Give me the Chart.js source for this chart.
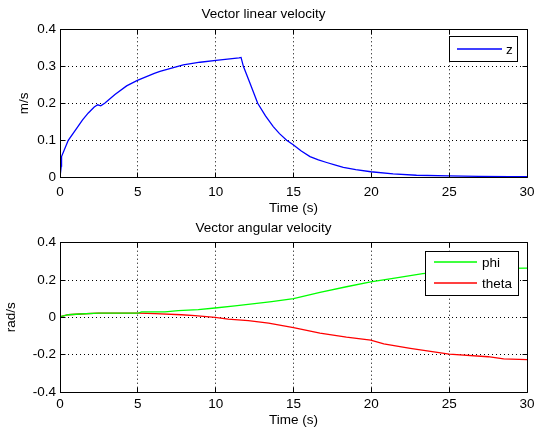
<!DOCTYPE html>
<html><head><meta charset="utf-8">
<script src="https://cdn.jsdelivr.net/npm/chart.js@4.4.0/dist/chart.umd.min.js"></script>
<style>
html,body{margin:0;padding:0;background:#fff;}
#wrap{position:relative;width:540px;height:435px;overflow:hidden;background:#fff;}
canvas{position:absolute;left:0;}
</style></head><body>
<div id="wrap">
<canvas id="c1" width="540" height="220" style="top:0;width:540px;height:220px"></canvas>
<canvas id="c2" width="540" height="215" style="top:220px;width:540px;height:215px"></canvas>
</div>
<script>
// ---- data ----
const zTime   = [0, 0.08, 0.1, 0.53, 1.07, 1.45, 1.82, 2.2, 2.42, 2.62, 2.89, 3.53, 4.28, 4.97, 6.06, 6.42, 7.92, 9.0, 10.02, 11.5, 11.63, 11.78, 12.2, 12.7, 13.2, 13.7, 14.1, 14.56, 14.98, 15.5, 16.06, 16.6, 17.13, 17.7, 18.2, 19.0, 19.97, 21.4, 22.9, 24.97, 26.9, 28.9, 30];
const zValues = [0, 0.03, 0.056, 0.1, 0.132, 0.155, 0.174, 0.19, 0.196, 0.193, 0.201, 0.224, 0.247, 0.262, 0.281, 0.286, 0.304, 0.311, 0.316, 0.323, 0.324, 0.3, 0.255, 0.2, 0.166, 0.137, 0.118, 0.1, 0.088, 0.071, 0.056, 0.047, 0.04, 0.033, 0.027, 0.021, 0.015, 0.009, 0.0055, 0.0036, 0.0027, 0.002, 0.0018];

const phiTime   = [0, 0.1, 0.53, 1.28, 2.46, 5.03, 5.24, 6.74, 7.6, 8.88, 9.96, 11.24, 12.5, 13.6, 15, 16.7, 18.4, 19.96, 21.6, 23.3, 25, 27, 28.5, 30];
const phiValues = [0, 0.005, 0.014, 0.018, 0.023, 0.023, 0.029, 0.029, 0.036, 0.041, 0.05, 0.062, 0.073, 0.084, 0.1, 0.134, 0.164, 0.19, 0.212, 0.234, 0.248, 0.258, 0.262, 0.264];

const thetaTime   = [0, 0.1, 0.53, 1.28, 2.46, 5.03, 6.1, 7.8, 8.67, 9.96, 10.8, 12.1, 13.4, 15, 16.7, 18.4, 19.96, 20.8, 22.5, 25, 27.5, 28.5, 30];
const thetaValues = [0, 0.005, 0.014, 0.018, 0.023, 0.023, 0.02, 0.014, 0.009, 0, -0.009, -0.018, -0.031, -0.055, -0.084, -0.106, -0.122, -0.142, -0.166, -0.197, -0.211, -0.222, -0.226];

const xTicks = [0, 5, 10, 15, 20, 25, 30];
const xTickLabels = ['0', '5', '10', '15', '20', '25', '30'];
const yTicksTop = [0, 0.1, 0.2, 0.3, 0.4];
const yTickLabelsTop = ['0', '0.1', '0.2', '0.3', '0.4'];
const yTicksBottom = [-0.4, -0.2, 0, 0.2, 0.4];
const yTickLabelsBottom = ['-0.4', '-0.2', '0', '0.2', '0.4'];

// ---- styling ----
const FONT = '"Liberation Sans", Arial, Helvetica, sans-serif';
const FS = 13.5;
Chart.defaults.font.family = FONT;
Chart.defaults.font.size = FS;
Chart.defaults.color = '#000';

function pts(xs, ys){ return xs.map((x,i)=>({x:x, y:ys[i]})); }
function align(p){ return Math.round(p - 0.5) + 0.5; }

const boxPlugin = {
  id: 'matlabBox',
  afterDatasetsDraw(chart){
    const {ctx, chartArea:a, scales:{x, y}} = chart;
    ctx.save();
    ctx.strokeStyle = '#000';
    ctx.lineWidth = 1;
    ctx.setLineDash([]);
    const L = align(a.left), R = align(a.right), T = align(a.top), B = align(a.bottom);
    ctx.beginPath();
    ctx.rect(L, T, R - L, B - T);
    const tl = 5;
    x.ticks.forEach(t => {
      const px = align(x.getPixelForValue(t.value));
      ctx.moveTo(px, B); ctx.lineTo(px, B - tl);
      ctx.moveTo(px, T); ctx.lineTo(px, T + tl);
    });
    y.ticks.forEach(t => {
      const py = align(y.getPixelForValue(t.value));
      ctx.moveTo(L, py); ctx.lineTo(L + tl, py);
      ctx.moveTo(R, py); ctx.lineTo(R - tl, py);
    });
    ctx.stroke();
    ctx.restore();
  }
};

const insetLegend = {
  id: 'insetLegend',
  afterDraw(chart, args, o){
    const {ctx, chartArea:a} = chart;
    const left = Math.round(a.right - o.right - o.width);
    const top = Math.round(a.top + o.top);
    ctx.save();
    ctx.fillStyle = '#fff';
    ctx.fillRect(left, top, o.width, o.height);
    ctx.strokeStyle = '#000';
    ctx.lineWidth = 1;
    ctx.setLineDash([]);
    ctx.strokeRect(left + 0.5, top + 0.5, o.width - 1, o.height - 1);
    ctx.font = FS + 'px ' + FONT;
    ctx.textBaseline = 'middle';
    ctx.textAlign = 'left';
    chart.data.datasets.forEach((ds, i) => {
      const yy = Math.round(top + o.rows[i]);
      ctx.strokeStyle = ds.borderColor;
      ctx.lineWidth = 1.3;
      ctx.beginPath();
      ctx.moveTo(left + o.lineStart, yy);
      ctx.lineTo(left + o.lineStart + o.lineLen, yy);
      ctx.stroke();
      ctx.fillStyle = '#000';
      ctx.fillText(ds.label, left + o.textX, yy + 1);
    });
    ctx.restore();
  }
};

function makeChart(id, cfg){
  return new Chart(document.getElementById(id), {
    type: 'line',
    data: { datasets: cfg.datasets },
    plugins: [boxPlugin, insetLegend],
    options: {
      responsive: false,
      animation: false,
      devicePixelRatio: 1,
      layout: { padding: { left: 0, right: 13, top: 0, bottom: 0 } },
      elements: { point: { radius: 0 }, line: { tension: 0, borderWidth: 1.3 } },
      plugins: {
        legend: { display: false },
        tooltip: { enabled: false },
        title: {
          display: true, text: cfg.title, color: '#000',
          font: { size: FS, weight: 'normal', family: FONT },
          padding: cfg.titlePad
        },
        insetLegend: cfg.legend
      },
      scales: {
        x: {
          type: 'linear', min: 0, max: 30,
          afterBuildTicks: s => { s.ticks = xTicks.map(v => ({value: v})); },
          afterFit: s => { s.height = cfg.xHeight; s.paddingLeft = 0; s.paddingRight = 0; },
          ticks: { padding: cfg.xTickPad, maxRotation: 0, autoSkip: false,
                   callback: (v, i) => xTickLabels[i], color: '#000', font: { size: FS } },
          grid: { color: '#000', lineWidth: 1, drawTicks: false },
          border: { display: false, dash: [1, 3] },
          title: { display: true, text: 'Time (s)', color: '#000', font: { size: FS },
                   padding: { top: 0, bottom: cfg.xTitlePad } }
        },
        y: {
          type: 'linear', min: cfg.yMin, max: cfg.yMax,
          afterBuildTicks: s => { s.ticks = cfg.yTicks.map(v => ({value: v})); },
          afterFit: s => { s.width = 60; s.paddingTop = 0; s.paddingBottom = 0; },
          ticks: { padding: 4, autoSkip: false,
                   callback: (v, i) => cfg.yLabels[i], color: '#000', font: { size: FS } },
          grid: { color: '#000', lineWidth: 1, drawTicks: false },
          border: { display: false, dash: [1, 3] },
          title: { display: true, text: cfg.yTitle, color: '#000', font: { size: FS },
                   padding: { top: cfg.yTitlePad, bottom: 0 } }
        }
      }
    }
  });
}

makeChart('c1', {
  title: 'Vector linear velocity',
  titlePad: { top: 5.9, bottom: 7.2 },
  xHeight: 42.7, xTickPad: 6.5, xTitlePad: 3.6,
  yMin: 0, yMax: 0.4, yTicks: yTicksTop, yLabels: yTickLabelsTop,
  yTitle: 'm/s', yTitlePad: 15.9,
  legend: { right: 9, top: 6.7, width: 69, height: 26, rows: [13], lineStart: 8, lineLen: 45, textX: 57 },
  datasets: [
    { label: 'z', data: pts(zTime, zValues), borderColor: '#0000ff', borderWidth: 1.3, fill: false }
  ]
});

makeChart('c2', {
  title: 'Vector angular velocity',
  titlePad: { top: 0.2, bottom: 6.3 },
  xHeight: 43, xTickPad: 4.5, xTitlePad: 6.2,
  yMin: -0.4, yMax: 0.4, yTicks: yTicksBottom, yLabels: yTickLabelsBottom,
  yTitle: 'rad/s', yTitlePad: 3,
  legend: { right: 8, top: 8.3, width: 94, height: 45, rows: [11.3, 31.7], lineStart: 9, lineLen: 43, textX: 57 },
  datasets: [
    { label: 'phi', data: pts(phiTime, phiValues), borderColor: '#00ff00', borderWidth: 1.3, fill: false },
    { label: 'theta', data: pts(thetaTime, thetaValues), borderColor: '#ff0000', borderWidth: 1.3, fill: false }
  ]
});
</script>
</body></html>
